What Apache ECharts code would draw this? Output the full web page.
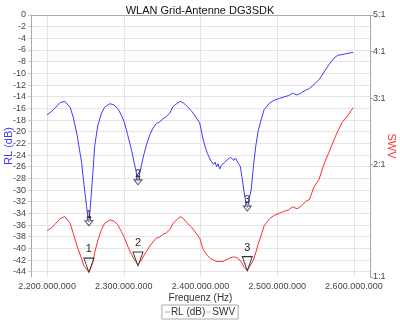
<!DOCTYPE html>
<html>
<head>
<meta charset="utf-8">
<script src="https://cdn.jsdelivr.net/npm/echarts@6/dist/echarts.min.js"></script>
<style>
	html, body { margin: 0; padding: 0; background: #fff; }
	#chart { width: 400px; height: 320px; }
</style>
</head>
<body>
<div id="chart"></div>
<script>
// frequency in MHz (axis labels show Hz)
var freqMHz = [2200, 2205, 2210, 2217, 2223, 2230, 2234, 2239, 2245, 2248, 2251.5, 2253, 2254.5, 2256, 2258, 2260, 2262, 2266, 2271, 2275,
	2282, 2287, 2292, 2297, 2301, 2305, 2310, 2313, 2315.5, 2318.5, 2321, 2323, 2326, 2329.5, 2334, 2338, 2342.5, 2347, 2351, 2355.5,
	2360, 2364, 2369, 2373.5, 2378, 2383, 2388, 2394, 2399, 2403, 2406.5, 2409, 2411, 2413, 2415, 2417, 2419, 2421, 2423, 2425,
	2427, 2429, 2431, 2433, 2435, 2437, 2439, 2441.5, 2443.5, 2445.5, 2447.5, 2449.5, 2452, 2454, 2457, 2459, 2461, 2463.5, 2466, 2469,
	2472, 2475, 2479, 2483, 2490, 2496, 2503, 2510, 2515, 2520, 2526, 2532, 2537, 2542, 2548, 2554.5, 2558.5, 2563, 2567.5, 2574,
	2579, 2584.5, 2591, 2597, 2599];
var rlValues = [-17.1, -16.6, -16.0, -15.0, -14.8, -15.8, -17.5, -20.5, -25.3, -29.0, -32.8, -34.5, -35.5, -33.5, -30.0, -26.5, -22.5, -19.0, -16.8, -15.8,
	-15.2, -15.4, -16.0, -17.2, -18.5, -20.5, -23.1, -25.0, -26.5, -28.5, -27.0, -25.7, -24.0, -22.3, -20.5, -19.4, -18.6, -18.3, -17.8, -17.4,
	-16.8, -15.7, -15.2, -14.8, -15.1, -15.7, -16.4, -17.5, -18.5, -21.1, -22.8, -23.7, -24.3, -24.9, -24.7, -25.6, -25.2, -26.0, -25.5, -26.4,
	-25.8, -26.1, -25.3, -25.6, -24.8, -25.1, -24.4, -24.2, -24.9, -24.5, -25.0, -24.7, -26.0, -27.7, -30.5, -32.0, -33.0, -31.5, -30.0, -26.0,
	-22.5, -20.0, -18.0, -16.2, -15.1, -14.6, -14.3, -14.0, -13.8, -13.4, -13.7, -13.3, -12.9, -12.6, -11.9, -11.1, -10.3, -9.4, -8.5, -7.4,
	-6.9, -6.8, -6.6, -6.45, -6.4];
var swvValues = [1.33, 1.35, 1.38, 1.43, 1.45, 1.39, 1.31, 1.21, 1.12, 1.07, 1.05, 1.04, 1.03, 1.04, 1.07, 1.10, 1.16, 1.25, 1.34, 1.39,
	1.42, 1.41, 1.38, 1.32, 1.27, 1.21, 1.15, 1.12, 1.10, 1.08, 1.09, 1.11, 1.14, 1.17, 1.21, 1.24, 1.27, 1.28, 1.30, 1.31,
	1.34, 1.39, 1.42, 1.45, 1.43, 1.39, 1.36, 1.31, 1.27, 1.19, 1.16, 1.14, 1.13, 1.12, 1.12, 1.11, 1.12, 1.10, 1.11, 1.10,
	1.11, 1.10, 1.11, 1.11, 1.12, 1.12, 1.13, 1.13, 1.12, 1.13, 1.12, 1.12, 1.11, 1.09, 1.06, 1.05, 1.04, 1.06, 1.07, 1.11,
	1.16, 1.22, 1.29, 1.37, 1.43, 1.46, 1.48, 1.50, 1.51, 1.54, 1.52, 1.55, 1.59, 1.61, 1.74, 1.82, 1.93, 2.05, 2.15, 2.32,
	2.45, 2.58, 2.68, 2.79, 2.83];

// markers: [frequency MHz, value]
var markerNames = ['1', '2', '3'];
var rlMarkers = [[2254.5, -35.5], [2318.5, -28.5], [2461, -33.0]];
var swvMarkers = [[2254.5, 1.03], [2318.5, 1.07], [2461, 1.04]];

var freqTicks = [2200, 2300, 2400, 2500, 2600];
var rlTicks = [];
for (let v = -44; v <= 0; v += 2) { rlTicks.push(v); }
var swvTicks = [1, 2, 3, 4, 5];

var FONT = 'Liberation Sans, Arial, sans-serif';
var BLUE = '#3b3bff';
var RED = '#ff2b2b';

function formatHz(pMHz) {
	return Math.round(pMHz * 1e6).toString().replace(/\B(?=(\d{3})+(?!\d))/g, '.');
}

function zip(pX, pY) {
	return pX.map((x, i) => [x, pY[i]]);
}

var arrowPath = 'path://M3,0 L7,0 L7,5 L10,5 L5,11 L0,5 L3,5 Z';

var chart = echarts.init(document.getElementById('chart'), null, { renderer: 'canvas' });
var option = {
	animation: false,
	textStyle: { fontFamily: FONT },
	title: {
		text: 'WLAN Grid-Antenne DG3SDK', left: 'center', top: 0,
		textStyle: { fontSize: 11, fontWeight: 'normal', color: '#111', fontFamily: FONT }
	},
	grid: { left: 31, right: 30, top: 15, bottom: 43, outerBoundsMode: 'none', containLabel: false },
	legend: {
		bottom: 1, left: 'center', padding: [2, 3], itemGap: 1,
		borderColor: '#aaa', borderWidth: 1,
		itemWidth: 5, itemHeight: 1, icon: 'rect',
		textStyle: { fontSize: 10, color: '#333', fontFamily: FONT, padding: [0, 0, 0, -4] },
		data: [
			{ name: 'RL (dB)', itemStyle: { color: '#9a9aff' } },
			{ name: 'SWV', itemStyle: { color: '#ff9a9a' } }
		]
	},
	xAxis: {
		type: 'value', min: 2179, max: 2621,
		name: 'Frequenz (Hz)', nameLocation: 'middle', nameGap: 16, nameMoveOverlap: false,
		nameTextStyle: { fontSize: 10, color: '#333', fontFamily: FONT },
		axisLine: { lineStyle: { color: '#aaa' } },
		axisTick: { show: false, customValues: freqTicks },
		axisLabel: { customValues: freqTicks, formatter: formatHz, fontSize: 9, color: '#444', margin: 5, fontFamily: FONT },
		splitLine: { show: true, lineStyle: { color: '#e4e4e4', width: 1 } }
	},
	yAxis: [
		{
			type: 'value', min: -44.9, max: 0,
			name: 'RL (dB)', nameLocation: 'middle', nameGap: 17, nameRotate: 90, nameMoveOverlap: false,
			nameTextStyle: { fontSize: 11, color: BLUE, fontFamily: FONT },
			axisLine: { show: true, lineStyle: { color: '#aaa' } },
			axisTick: { show: true, length: 3, customValues: rlTicks, lineStyle: { color: '#ccc' } },
			axisLabel: { customValues: rlTicks, fontSize: 9, color: '#444', margin: 5, fontFamily: FONT },
			splitLine: { show: true, lineStyle: { color: '#e4e4e4', width: 1 } }
		},
		{
			type: 'log', logBase: 10, min: 1, max: 5, position: 'right',
			name: 'SWV', nameLocation: 'middle', nameGap: 16, nameRotate: -90, nameMoveOverlap: false,
			nameTextStyle: { fontSize: 11, color: RED, fontFamily: FONT },
			axisLine: { show: true, lineStyle: { color: '#aaa' } },
			axisTick: { show: true, length: 3, customValues: swvTicks, lineStyle: { color: '#aaa' } },
			axisLabel: { customValues: swvTicks, formatter: (v) => Math.round(v) + ':1', fontSize: 9, color: '#444', margin: 3, fontFamily: FONT },
			splitLine: { show: false }
		}
	],
	series: [
		{
			name: 'RL (dB)', type: 'line', yAxisIndex: 0, showSymbol: false,
			data: zip(freqMHz, rlValues),
			lineStyle: { color: BLUE, width: 1 }, itemStyle: { color: BLUE },
			markPoint: {
				symbol: arrowPath, symbolSize: [8, 9], symbolOffset: [0, -1],
				itemStyle: { color: 'rgba(255,255,255,0.3)', borderColor: '#555', borderWidth: 1 },
				label: { show: true, position: 'inside', offset: [0, -6], formatter: '{b}', fontSize: 10, color: '#222', fontFamily: FONT },
				data: rlMarkers.map((m, i) => ({ name: markerNames[i], coord: m }))
			}
		},
		{
			name: 'SWV', type: 'line', yAxisIndex: 1, showSymbol: false,
			data: zip(freqMHz, swvValues),
			lineStyle: { color: RED, width: 1 }, itemStyle: { color: RED },
			markPoint: {
				symbol: 'triangle', symbolSize: [10, 14], symbolRotate: 180, symbolOffset: [0, -7],
				itemStyle: { color: 'rgba(255,255,255,0)', borderColor: '#333', borderWidth: 1 },
				label: { show: true, position: 'inside', offset: [0, -16], formatter: '{b}', fontSize: 11, color: '#222', fontFamily: FONT },
				data: swvMarkers.map((m, i) => ({ name: markerNames[i], coord: m }))
			}
		}
	]
};
chart.setOption(option);
</script>
</body>
</html>
